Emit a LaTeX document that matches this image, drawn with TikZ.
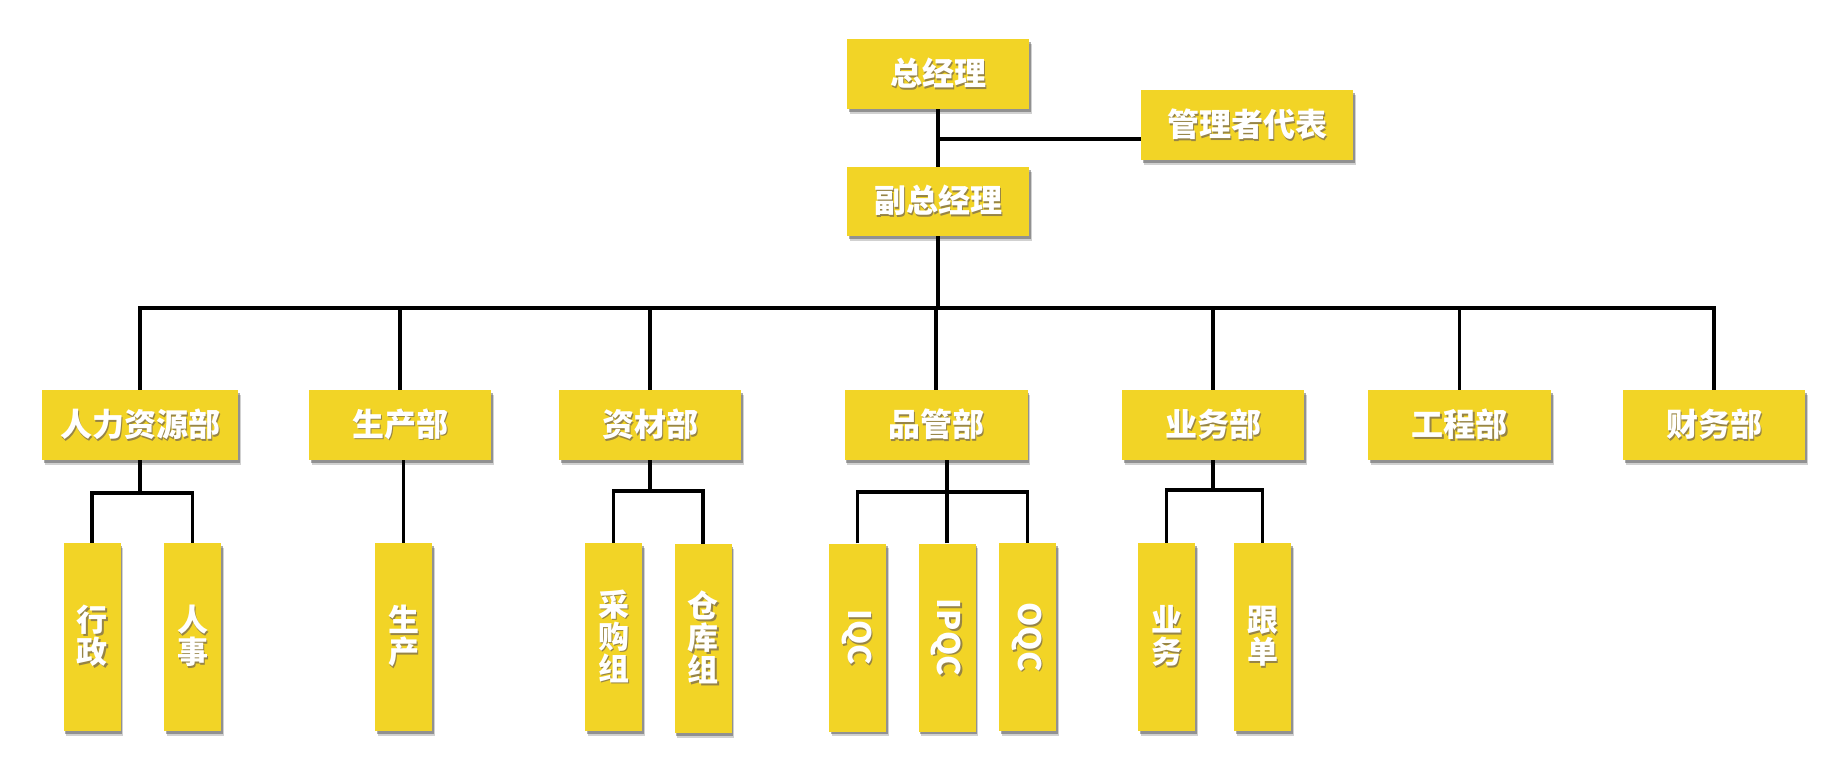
\documentclass[tikz,border=0pt]{standalone}
\usepackage{fontspec}
\newfontfamily\cjk{Noto Sans CJK SC}
\usetikzlibrary{shadows,calc}
\definecolor{boxy}{RGB}{242,212,38}
\definecolor{tshadow}{RGB}{150,132,70}
\newcommand\stx[1]{\makebox[0pt][l]{\hspace{1.8pt}\raisebox{-1.8pt}{\textcolor{tshadow}{#1}}}\textcolor{white}{#1}}
\newcommand\rtx[1]{\rotatebox{-90}{\makebox[0pt][l]{\hspace{1.8pt}\raisebox{1.8pt}{\textcolor{tshadow}{#1}}}\textcolor{white}{#1}}}
\tikzset{
  box/.style={rectangle, fill=boxy, inner sep=0pt, text=white,
    drop shadow={shadow xshift=2.5pt, shadow yshift=-4.5pt, opacity=0.18, fill=black},
    drop shadow={shadow xshift=1.5pt, shadow yshift=-2.5pt, opacity=0.4, fill=black!80}},
  hbox/.style={box, minimum width=182pt, minimum height=70pt,
    font=\cjk\bfseries\fontsize{32}{32}\selectfont},
  vbox/.style={box, minimum width=57pt, minimum height=188pt, align=center,
    font=\cjk\bfseries\fontsize{31}{32}\selectfont},
  link/.style={draw=black, line width=3.3pt}
}
\begin{document}
\begin{tikzpicture}[x=1pt,y=-1pt]
\useasboundingbox (0,0) rectangle (1840,774);
% top
\node[hbox] (gm) at (938,74) {\stx{总经理}};
\node[hbox, minimum width=212pt] (rep) at (1247,125) {\stx{管理者代表}};
\node[hbox, minimum height=69pt] (dgm) at (938,201.5) {\stx{副总经理}};
% departments
\node[hbox, minimum width=196pt] (hr) at (140,425) {\stx{人力资源部}};
\node[hbox] (prod) at (400,425) {\stx{生产部}};
\node[hbox] (mat) at (650,425) {\stx{资材部}};
\node[hbox, minimum width=183pt] (qc) at (936,425) {\stx{品管部}};
\node[hbox] (sales) at (1213,425) {\stx{业务部}};
\node[hbox, minimum width=183pt] (eng) at (1459.5,425) {\stx{工程部}};
\node[hbox] (fin) at (1714,425) {\stx{财务部}};
% sub units
\node[vbox] (xz) at (92,637) {\stx{行}\\\stx{政}};
\node[vbox] (rs) at (192.5,637) {\stx{人}\\\stx{事}};
\node[vbox] (sc) at (403.5,637) {\stx{生}\\\stx{产}};
\node[vbox] (cg) at (613.5,637) {\stx{采}\\\stx{购}\\\stx{组}};
\node[vbox, minimum height=189pt] (ck) at (703,638.5) {\stx{仓}\\\stx{库}\\\stx{组}};
\node[vbox] (iqc) at (857.5,637.5) {\rtx{IQC}};
\node[vbox] (ipqc) at (947,637.5) {\rtx{IPQC}};
\node[vbox] (oqc) at (1027.5,637) {\rtx{OQC}};
\node[vbox] (yw) at (1166.5,637) {\stx{业}\\\stx{务}};
\node[vbox] (gd) at (1262.5,637) {\stx{跟}\\\stx{单}};
% connectors top
\coordinate (j1) at (938,139);
\coordinate (bus) at (938,308);
\draw[link] (gm.south) -- (dgm.north);
\draw[link] (j1) -- (j1 -| rep.west);
\draw[link] (dgm.south) -- (bus);
\draw[link] (hr.north) -- (hr.north |- bus) -- (fin.north |- bus) -- (fin.north);
\foreach \d in {prod,mat,qc,sales,eng}
  \draw[link] (\d.north) -- (\d.north |- bus);
% connectors to sub units
\coordinate (b1) at (0,493);
\coordinate (b2) at (0,491);
\coordinate (b3) at (0,492);
\coordinate (b4) at (0,490);
\draw[link] (hr.south) -- (hr.south |- b1);
\draw[link] (xz.north) |- (rs.north |- b1) -- (rs.north);
\draw[link] (sc.north) -- (sc.north |- prod.south);
\draw[link] (mat.south) -- (mat.south |- b2);
\draw[link] (cg.north) |- (ck.north |- b2) -- (ck.north);
\draw[link] (ipqc.north) -- (ipqc.north |- qc.south);
\draw[link] (iqc.north) |- (oqc.north |- b3) -- (oqc.north);
\draw[link] (sales.south) -- (sales.south |- b4);
\draw[link] (yw.north) |- (gd.north |- b4) -- (gd.north);
\end{tikzpicture}
\end{document}
